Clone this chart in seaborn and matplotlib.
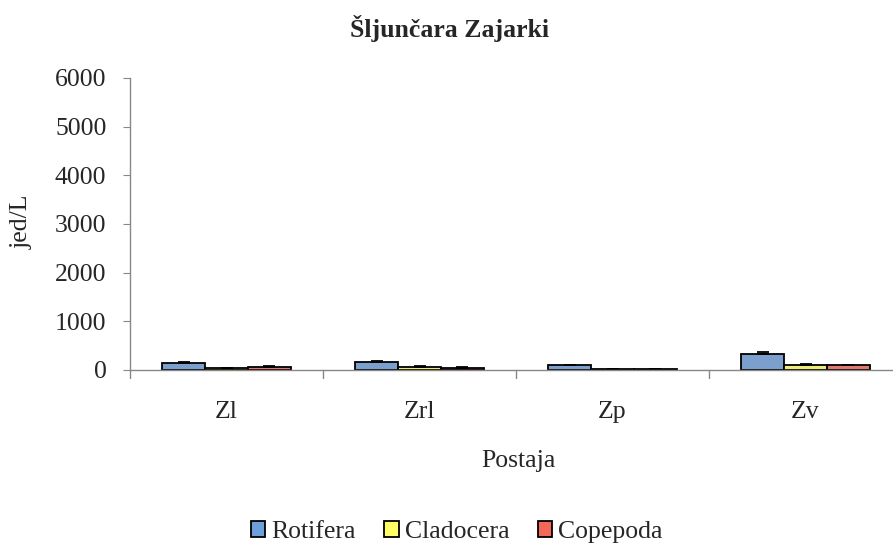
import matplotlib
matplotlib.use("Agg")
import matplotlib.pyplot as plt
import seaborn as sns
import pandas as pd
import numpy as np
from matplotlib.patches import Patch

sns.set_style("white")
plt.rcParams['font.family'] = ['Liberation Serif', 'DejaVu Serif']

stations = ["Zl", "Zrl", "Zp", "Zv"]
groups = ["Rotifera", "Cladocera", "Copepoda"]
rotifera = [150, 170, 95, 335]
cladocera = [35, 60, 12, 100]
copepoda = [65, 45, 15, 95]
rotifera_err = [20, 20, 15, 30]
cladocera_err = [10, 15, 5, 15]
copepoda_err = [15, 10, 5, 15]
colors = ["#6E9FDB", "#FFFF66", "#F2695A"]

rows = []
for g, vals, errs in zip(groups, [rotifera, cladocera, copepoda],
                         [rotifera_err, cladocera_err, copepoda_err]):
    for s, v, e in zip(stations, vals, errs):
        rows.append({"Postaja": s, "Skupina": g, "val": v, "err": e})
df = pd.DataFrame(rows)

FS = 18.5
fig = plt.figure(figsize=(8.93, 5.44), dpi=100)
ax = fig.add_axes([130/893, 174/544, 772/893, 292/544])

sns.barplot(data=df, x="Postaja", y="val", hue="Skupina", order=stations,
            hue_order=groups, palette=colors, width=0.667, errorbar=None,
            edgecolor="black", linewidth=1.3, ax=ax, legend=False)

# error bars (upper only)
for i, g in enumerate(groups):
    sub = df[df.Skupina == g].set_index("Postaja").loc[stations]
    bars = ax.containers[i]
    xs = [b.get_x() + b.get_width()/2 for b in bars]
    ax.errorbar(xs, sub.val.values, yerr=[np.zeros(len(xs)), sub.err.values],
                fmt="none", ecolor="black", elinewidth=1, capsize=4, capthick=1.3)

ax.set_ylim(0, 6000)
ax.set_xlim(-0.5, 3.5)
ax.set_yticks(range(0, 6001, 1000))
ax.tick_params(axis="y", labelsize=FS, length=5, direction="out", left=True,
               color="#888888", pad=12)
ax.tick_params(axis="x", labelsize=FS, length=0, pad=22)

# short tick marks below the x axis at category boundaries
for x in [-0.5, 0.5, 1.5, 2.5, 3.5]:
    ax.plot([x, x], [0, -0.027], transform=ax.get_xaxis_transform(), clip_on=False,
            color="#888888", lw=1)

for side in ["top", "right"]:
    ax.spines[side].set_visible(False)
for side in ["left", "bottom"]:
    ax.spines[side].set_color("#888888")
    ax.spines[side].set_linewidth(1)

ax.set_xlabel("Postaja", fontsize=FS)
ax.xaxis.set_label_coords((518 - 130) / 772, (370 - 461) / 292)
ax.xaxis.label.set_va("center")
ax.set_ylabel("jed/L", fontsize=FS)
ax.yaxis.set_label_coords((22 - 130) / 772, (370 - 222) / 292)
ax.yaxis.label.set_va("center")

fig.text(450/893, 1 - 28/544, "Šljunčara Zajarki", ha="center", va="center",
         fontsize=FS, fontweight="bold")

handles = [Patch(facecolor=c, edgecolor="black", linewidth=1.3, label=g)
           for c, g in zip(colors, groups)]
fig.legend(handles=handles, loc="center", bbox_to_anchor=(457/893, 1 - 532/544),
           ncol=3, frameon=False, fontsize=FS, handlelength=0.55, handleheight=0.55,
           handletextpad=0.25, columnspacing=1.1, borderpad=0, borderaxespad=0)

fig.savefig("out.png", dpi=100)
